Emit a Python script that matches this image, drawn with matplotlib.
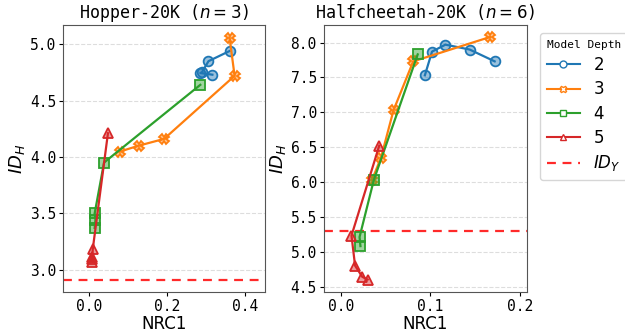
import matplotlib
matplotlib.use("Agg")
import matplotlib.pyplot as plt
import matplotlib.colors as mcolors
from matplotlib.lines import Line2D

# Hopper-20K (n=3): NRC1 vs ID_H per model depth
hop_d2_x = [0.316, 0.285, 0.289, 0.306, 0.360]
hop_d2_y = [4.73, 4.745, 4.75, 4.85, 4.94]
hop_d3_x = [0.078, 0.127, 0.192, 0.373, 0.360]
hop_d3_y = [4.047, 4.10, 4.16, 4.72, 5.06]
hop_d4_x = [0.285, 0.038, 0.014, 0.016, 0.014]
hop_d4_y = [4.64, 3.95, 3.50, 3.44, 3.37]
hop_d5_x = [0.048, 0.009, 0.008, 0.007, 0.008]
hop_d5_y = [4.21, 3.18, 3.11, 3.09, 3.07]
hop_idy = 2.91

# Halfcheetah-20K (n=6)
hc_d2_x = [0.094, 0.102, 0.117, 0.144, 0.172]
hc_d2_y = [7.53, 7.87, 7.97, 7.90, 7.73]
hc_d3_x = [0.035, 0.045, 0.059, 0.081, 0.167]
hc_d3_y = [6.03, 6.35, 7.03, 7.73, 8.08]
hc_d4_x = [0.086, 0.037, 0.021, 0.022]
hc_d4_y = [7.83, 6.03, 5.21, 5.08]
hc_d5_x = [0.043, 0.012, 0.016, 0.024, 0.030]
hc_d5_y = [6.52, 5.23, 4.80, 4.64, 4.60]
hc_idy = 5.29

depths = ["2", "3", "4", "5"]
colors = ["#1f77b4", "#ff7f0e", "#2ca02c", "#d62728"]
markers = ["o", "X", "s", "^"]

plt.rcParams["font.family"] = "DejaVu Sans Mono"
plt.rcParams["mathtext.fontset"] = "dejavusans"

fig = plt.figure(figsize=(6.25, 3.35), dpi=100)
ax1 = fig.add_axes([0.101, 0.128, 0.323, 0.797])
ax2 = fig.add_axes([0.518, 0.128, 0.325, 0.797])


def draw(ax, series, idy, title):
    for (xs, ys), c, m in zip(series, colors, markers):
        ax.plot(xs, ys, color=c, lw=1.6, marker=m, markersize=7,
                markerfacecolor=mcolors.to_rgba(c, 0.45), markeredgecolor=c,
                markeredgewidth=1.3, zorder=3)
    ax.axhline(idy, color="#ff2a2a", lw=1.6, ls=(0, (4, 3)), zorder=2)
    ax.grid(axis="y", ls="--", color="#dddddd", lw=0.8)
    ax.set_axisbelow(True)
    ax.set_title(title, fontsize=12, pad=5)
    ax.set_xlabel("NRC1", fontsize=12, family="DejaVu Sans", labelpad=1)
    ax.set_ylabel("$ID_H$", fontsize=13, labelpad=2)
    ax.tick_params(labelsize=10.5, length=3, pad=2)
    for s in ax.spines.values():
        s.set_color("#555555")


draw(ax1, [(hop_d2_x, hop_d2_y), (hop_d3_x, hop_d3_y), (hop_d4_x, hop_d4_y),
           (hop_d5_x, hop_d5_y)], hop_idy, "Hopper-20K ($n=3$)")
ax1.set_xlim(-0.067, 0.451)
ax1.set_ylim(2.80, 5.17)
ax1.set_xticks([0.0, 0.2, 0.4])
ax1.set_yticks([3.0, 3.5, 4.0, 4.5, 5.0])

draw(ax2, [(hc_d2_x, hc_d2_y), (hc_d3_x, hc_d3_y), (hc_d4_x, hc_d4_y),
           (hc_d5_x, hc_d5_y)], hc_idy, "Halfcheetah-20K ($n=6$)")
ax2.set_xlim(-0.019, 0.208)
ax2.set_ylim(4.42, 8.25)
ax2.set_xticks([0.0, 0.1, 0.2])
ax2.set_yticks([4.5, 5.0, 5.5, 6.0, 6.5, 7.0, 7.5, 8.0])

handles = [Line2D([], [], color=c, marker=m, markersize=5, lw=1.5,
                  markerfacecolor="white", markeredgecolor=c,
                  markeredgewidth=1.0)
           for c, m in zip(colors, markers)]
handles.append(Line2D([], [], color="#ff2a2a", lw=1.6, ls=(0, (4, 3))))
labels = depths + ["$ID_Y$"]
leg = ax2.legend(handles, labels, title="Model Depth", loc="upper left",
                 bbox_to_anchor=(1.065, 0.97), fontsize=12, title_fontsize=8,
                 handlelength=2.0, borderaxespad=0.0, labelspacing=0.38,
                 borderpad=0.4)
for t in leg.get_texts():
    t.set_family("DejaVu Sans")

fig.savefig("out.png", dpi=100)
